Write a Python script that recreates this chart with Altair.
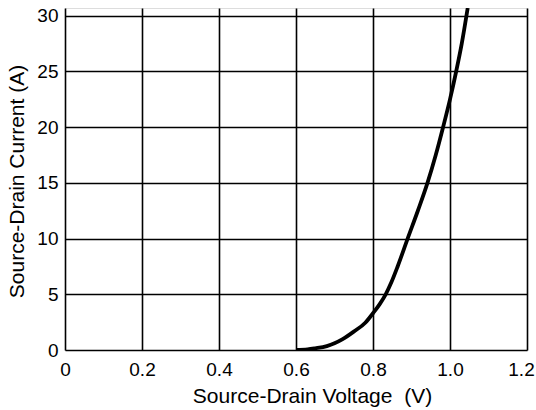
import altair as alt
import pandas as pd

voltage = [0.60, 0.63, 0.65, 0.68, 0.70, 0.72, 0.75, 0.78, 0.80, 0.817, 0.833, 0.848, 0.864, 0.89, 0.9165, 0.9415, 0.963, 0.982, 1.000, 1.016, 1.0305, 1.046]
current = [0.0, 0.05, 0.15, 0.35, 0.6, 0.95, 1.65, 2.45, 3.3, 4.1, 5.0, 6.1, 7.5, 10.0, 12.5, 15.0, 17.5, 20.0, 22.5, 25.0, 27.5, 30.7]

x_ticks = [0, 0.2, 0.4, 0.6, 0.8, 1.0, 1.2]
y_ticks = [0, 5, 10, 15, 20, 25, 30]

df = pd.DataFrame({"v": voltage, "i": current})

FONT = "Liberation Sans"

chart = alt.Chart(df).mark_line(
    color="black", strokeWidth=3.8, interpolate="monotone", clip=True
).encode(
    x=alt.X("v:Q",
            scale=alt.Scale(domain=[0, 1.2], nice=False, zero=False),
            axis=alt.Axis(values=x_ticks,
                          labelExpr="datum.value == 0 ? '0' : format(datum.value, '.1f')",
                          title="Source-Drain Voltage\u00a0\u00a0(V)",
                          grid=True, gridColor="black", gridWidth=1.6, gridOpacity=1,
                          ticks=False, domain=False,
                          labelFont=FONT, labelFontSize=19, labelColor="black",
                          labelPadding=10, labelFlush=False,
                          labelOffset={"condition": {"test": "datum.value > 1.1", "value": -6}, "value": 0},
                          titleFont=FONT, titleFontSize=21, titleFontWeight="normal",
                          titleColor="black", titleX=247, titleY=52,
                          titleBaseline="alphabetic")),
    y=alt.Y("i:Q",
            scale=alt.Scale(domain=[0, 30.7], nice=False),
            axis=alt.Axis(values=y_ticks,
                          title="Source-Drain Current (A)",
                          grid=True, gridColor="black", gridWidth=1.6, gridOpacity=1,
                          ticks=False, domain=False,
                          labelFont=FONT, labelFontSize=19, labelColor="black",
                          labelPadding=7, labelFlush=False,
                          titleFont=FONT, titleFontSize=21, titleFontWeight="normal",
                          titleColor="black", titleX=-48, titleY=173,
                          titleAngle=-90, titleBaseline="middle", titleAlign="center")),
).properties(
    width=462, height=342,
    autosize=alt.AutoSizeParams(type="none"),
    padding={"left": 65, "top": 8, "right": 9, "bottom": 60},
).configure_view(
    stroke="black", strokeWidth=2.2
).configure(background="white")

chart.save("out.html", embed_options={"renderer": "svg", "actions": False})
